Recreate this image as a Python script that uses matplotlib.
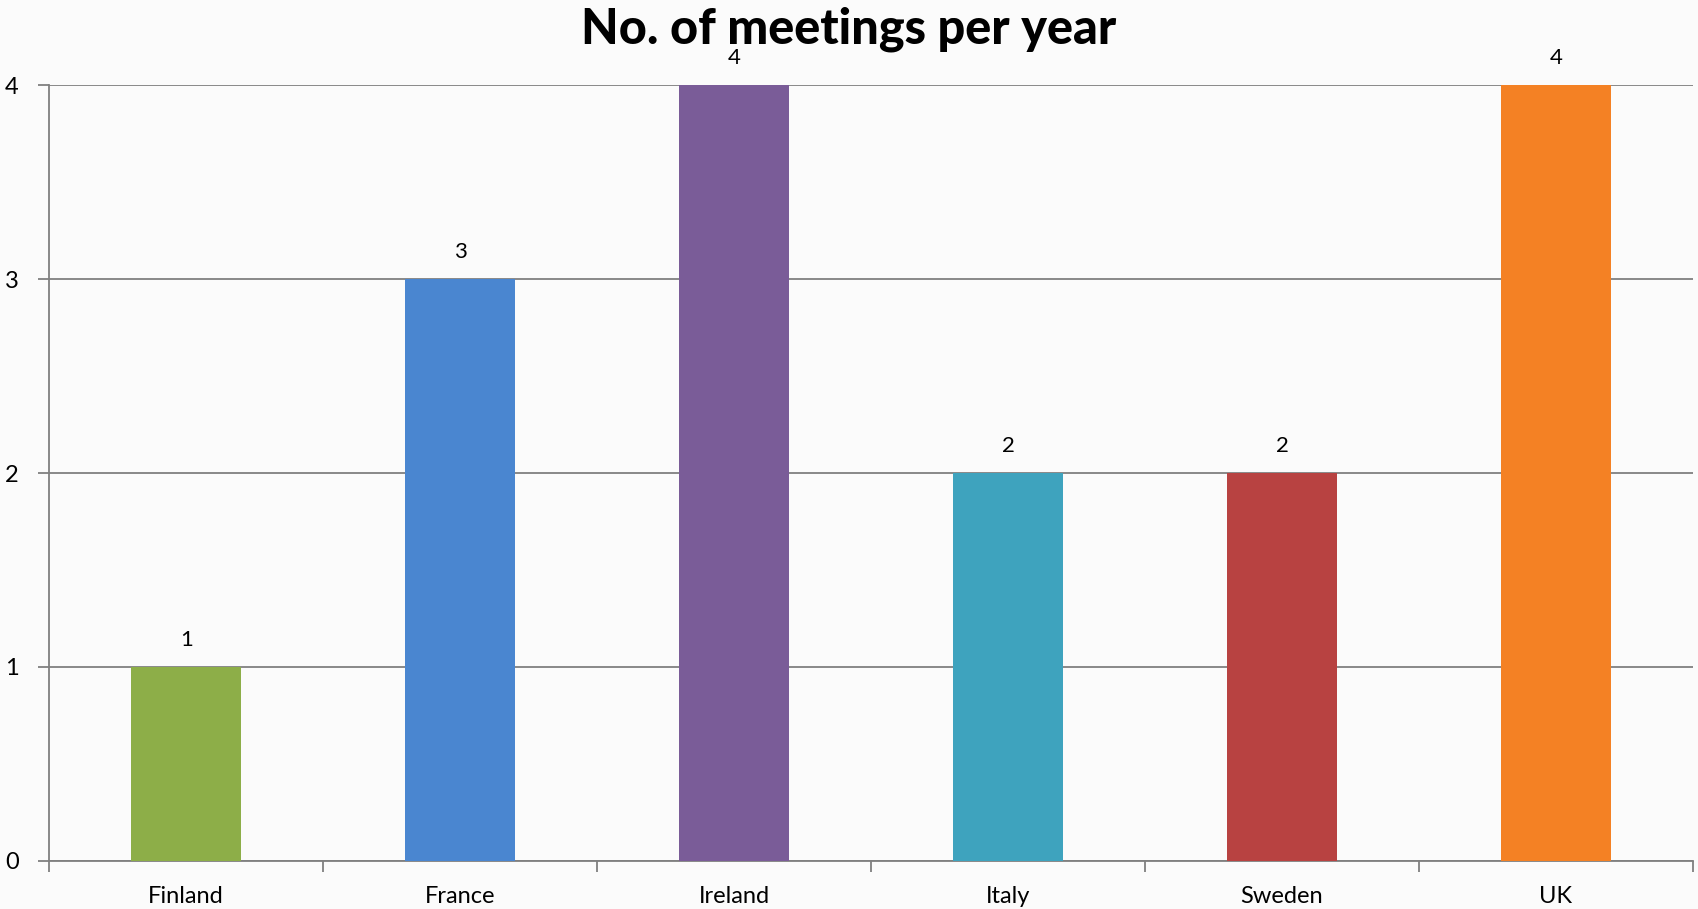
import numpy as np
import matplotlib.pyplot as plt

countries = ['Finland', 'France', 'Ireland', 'Italy', 'Sweden', 'UK']
meetings = [1, 3, 4, 2, 2, 4]
bar_colors = ['#8DAE48', '#4A86D0', '#7A5C98', '#3EA3BE', '#B84241', '#F48124']

plt.rcParams['font.family'] = ['Lato', 'DejaVu Sans']

fig = plt.figure(figsize=(16.98, 9.09), dpi=100, facecolor='#fbfbfb')
ax = fig.add_axes([0.029, 0.053, 0.968, 0.853])
ax.set_facecolor('#fbfbfb')

x = np.arange(len(countries))
ax.bar(x, meetings, width=0.4, color=bar_colors, zorder=3)
for xi, v in zip(x, meetings):
    ax.text(xi, v + 0.09, str(v), ha='center', va='bottom', fontsize=16, color='black')

ax.set_xlim(-0.5, len(countries) - 0.5)
ax.set_ylim(0, 4)
ax.set_yticks([0, 1, 2, 3, 4])
ax.yaxis.grid(True, color='#7f7f7f', linewidth=1.3, zorder=0)
ax.set_axisbelow(True)

# category labels centered, ticks on boundaries
ax.set_xticks(x)
ax.set_xticklabels(countries, fontsize=17)
ax.tick_params(axis='x', which='major', length=0, pad=18)
ax.set_xticks(np.arange(-0.5, len(countries)), minor=True)
ax.tick_params(axis='x', which='minor', length=8, width=1.3, color='#7f7f7f')
ax.tick_params(axis='y', length=8, width=1.3, color='#7f7f7f', labelsize=17, pad=14)

for s in ['top', 'right']:
    ax.spines[s].set_visible(False)
for s in ['left', 'bottom']:
    ax.spines[s].set_color('#7f7f7f')
    ax.spines[s].set_linewidth(1.3)

fig.text(0.5, 0.968, 'No. of meetings per year', ha='center', va='center',
         fontsize=35, fontweight='black')

fig.savefig('out.png', dpi=100, facecolor=fig.get_facecolor())
